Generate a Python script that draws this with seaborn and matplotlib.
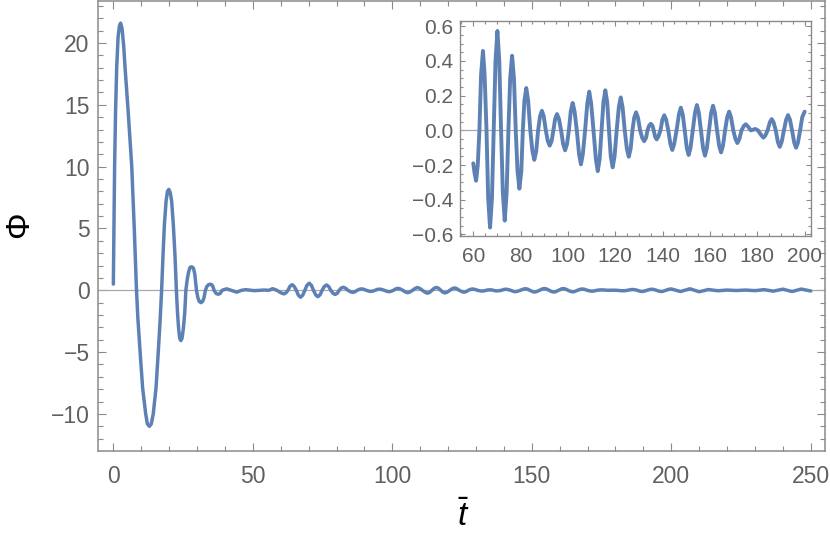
import pandas as pd
import matplotlib
matplotlib.use("Agg")
import matplotlib.pyplot as plt
from matplotlib.ticker import MultipleLocator
import seaborn as sns

# values (t_bar, Phi): early large swings
t_early = [0.0, 0.2, 0.45, 0.8, 1.2, 1.7, 2.2, 2.6, 3.1, 3.7, 4.2, 5.3, 6.6, 7.5,
           8.3, 8.8, 9.6, 10.5, 11.6, 12.2, 12.9, 13.6, 14.3, 15.3, 16.1, 16.8,
           17.3, 17.8, 18.3, 18.9, 19.4, 19.9, 20.4, 20.9, 21.5, 22.1,
           22.6, 23.0, 23.4, 23.8, 24.2, 24.6, 25.1, 25.6,
           26.0, 26.5, 27.0, 27.5, 28.1, 28.7, 29.2,
           29.8, 30.3, 30.8, 31.4, 32.0, 32.5,
           33.0, 33.5, 34.1, 34.7, 35.3, 35.7,
           36.1, 36.8, 37.6, 38.3, 39.0, 40.6, 42.2, 44.2, 46.0, 47.5, 50.5,
           54.0, 55.8, 57.1, 58.6]
phi_early = [0.5, 5.0, 10.0, 14.5, 18.0, 20.5, 21.4, 21.6, 21.2, 19.8, 18.0, 14.5, 10.0, 5.0,
             0.0, -2.3, -5.0, -7.9, -10.0, -10.8, -11.0, -10.8, -10.0, -7.9, -5.0, -2.3,
             0.0, 2.8, 5.3, 7.2, 8.0, 8.16, 7.9, 7.2, 5.3, 2.8,
             0.0, -1.8, -3.1, -3.9, -4.07, -3.9, -3.1, -1.8,
             0.0, 0.9, 1.5, 1.85, 1.9, 1.8, 1.3,
             0.0, -0.6, -0.9, -1.0, -0.9, -0.6,
             0.0, 0.3, 0.45, 0.49, 0.45, 0.3,
             0.0, -0.25, -0.32, -0.25, 0.0, 0.12, 0.0, -0.15, 0.0, 0.05, -0.03,
             0.02, 0.0, 0.13, 0.0]

# ringing between t = 60 and 200 (shown in the inset)
t_ring = [60.0, 60.6, 61.2, 61.9, 62.6, 63.3, 64.1, 64.8, 65.6, 66.3, 67.1, 67.9,
          68.65, 69.4, 70.2, 71.0, 71.75, 72.5, 73.3, 74.1, 74.85, 75.6, 76.4, 77.2,
          77.95, 78.7, 79.5, 80.3, 80.95, 81.6, 82.4, 83.2, 84.1, 85.0, 85.8, 86.6,
          87.4, 88.2, 89.0, 89.8, 90.65, 91.5, 92.3, 93.1, 93.85, 94.6, 95.4, 96.2,
          97.1, 98.0, 98.8, 99.6, 100.4, 101.2, 102.0, 102.8, 103.75, 104.7, 105.5, 106.3,
          107.25, 108.2, 109.0, 109.8, 110.8, 111.8, 112.6, 113.4, 114.2, 115.0, 115.8, 116.6,
          117.35, 118.1, 118.9, 119.7, 120.6, 121.5, 122.3, 123.1, 124.0, 124.9, 125.7, 126.5,
          127.25, 128.0, 128.8, 129.6, 130.5, 131.4, 132.2, 133.0, 133.6, 134.3, 135.0, 135.7,
          136.25, 136.8, 137.5, 138.2, 139.1, 139.9, 140.7, 141.5, 142.4, 143.3, 144.1, 144.9,
          145.9, 146.9, 147.7, 148.5, 149.35, 150.2, 151.0, 151.8, 152.75, 153.7, 154.5, 155.3,
          156.2, 157.1, 157.9, 158.7, 159.6, 160.5, 161.3, 162.1, 163.0, 163.9, 164.7, 165.5,
          166.4, 167.3, 168.1, 168.9, 169.85, 170.8, 171.6, 172.4, 173.35, 174.3, 175.1, 175.9,
          177.3, 179.2, 180.3, 181.8, 182.6, 183.4, 184.35, 185.3, 186.1, 186.9,
          187.8, 188.7, 189.5, 190.3, 191.25, 192.2, 193.0, 193.8, 194.7, 195.6, 196.4, 197.2,
          198.1, 199.0, 200.0]
phi_ring = [-0.19, -0.25, -0.29, -0.20, 0.0, 0.32, 0.458, 0.32, 0.0, -0.39, -0.56, -0.39,
            0.0, 0.40, 0.573, 0.40, 0.0, -0.36, -0.52, -0.36, 0.0, 0.30, 0.43, 0.30,
            0.0, -0.235, -0.336, -0.235, 0.0, 0.17, 0.244, 0.17, 0.0, -0.12, -0.17, -0.12,
            0.0, 0.08, 0.113, 0.08, 0.0, -0.062, -0.088, -0.062, 0.0, 0.066, 0.094, 0.066,
            0.0, -0.08, -0.115, -0.08, 0.0, 0.11, 0.158, 0.11, 0.0, -0.137, -0.196, -0.137,
            0.0, 0.156, 0.223, 0.156, 0.0, -0.165, -0.235, -0.165, 0.0, 0.162, 0.231, 0.162,
            0.0, -0.15, -0.213, -0.15, 0.0, 0.133, 0.19, 0.133, 0.0, -0.106, -0.152, -0.106,
            0.0, 0.073, 0.104, 0.073, 0.0, -0.043, -0.062, -0.043, 0.0, 0.027, 0.038, 0.027,
            0.0, -0.036, -0.052, -0.036, 0.0, 0.061, 0.087, 0.061, 0.0, -0.079, -0.113, -0.079,
            0.0, 0.092, 0.131, 0.092, 0.0, -0.10, -0.142, -0.10, 0.0, 0.102, 0.146, 0.102,
            0.0, -0.102, -0.146, -0.102, 0.0, 0.10, 0.142, 0.10, 0.0, -0.089, -0.127, -0.089,
            0.0, 0.076, 0.108, 0.076, 0.0, -0.051, -0.073, -0.051, 0.0, 0.025, 0.035, 0.025,
            0.0, 0.008, 0.0, -0.03, -0.042, -0.03, 0.0, 0.046, 0.065, 0.046,
            0.0, -0.067, -0.095, -0.067, 0.0, 0.062, 0.088, 0.062, 0.0, -0.07, -0.10, -0.07,
            0.0, 0.076, 0.108]

# tail after t = 200
t_tail = [203.3, 206.7, 210.0, 213.3, 216.7, 220.0, 223.3, 226.6, 230.0, 233.3,
          236.6, 240.0, 243.3, 246.6, 250.0]
phi_tail = [-0.10, 0.12, -0.12, 0.06, -0.04, 0.02, -0.02, 0.02, -0.03, 0.05,
            -0.07, 0.09, -0.10, 0.10, -0.06]

main_xticks = [0, 50, 100, 150, 200, 250]
main_yticks = [-10, -5, 0, 5, 10, 15, 20]
inset_xticks = [60, 80, 100, 120, 140, 160, 180, 200]
inset_yticks = [-0.6, -0.4, -0.2, 0.0, 0.2, 0.4, 0.6]

df = pd.DataFrame({"t": t_early + t_ring + t_tail,
                   "phi": phi_early + phi_ring + phi_tail})
df_in = df[(df["t"] >= 60) & (df["t"] <= 200)]

sns.set_style("ticks")
plt.rcParams["font.family"] = ["Liberation Sans", "DejaVu Sans"]
plt.rcParams["mathtext.fontset"] = "custom"
plt.rcParams["mathtext.it"] = "Liberation Sans:italic"
plt.rcParams["mathtext.rm"] = "Liberation Sans"

line_col = "#5E81B5"
frame_col = "#8a8a8a"
label_col = "#606060"

fig = plt.figure(figsize=(8.3, 5.4), dpi=100)
ax = fig.add_axes([98 / 830, 1 - 450.7 / 540, 727 / 830, 449.7 / 540])
ax.axhline(0, color="#a8a8a8", lw=0.9, zorder=1)
sns.lineplot(data=df, x="t", y="phi", ax=ax, color=line_col, lw=2.5,
             estimator=None, sort=False, zorder=3)
ax.set_xlim(-5.5, 255.1)
ax.set_ylim(-12.97, 23.39)
ax.set_xticks(main_xticks)
ax.set_yticks(main_yticks)
ax.xaxis.set_minor_locator(MultipleLocator(10))
ax.yaxis.set_minor_locator(MultipleLocator(1))
ax.set_xlabel("")
ax.set_ylabel("")
ax.tick_params(which="both", direction="in", top=True, right=True,
               color=frame_col, width=0.8, labelsize=16.5, labelcolor=label_col)
ax.tick_params(which="major", length=5.8)
ax.tick_params(which="minor", length=3.5)
ax.tick_params(axis="x", pad=10)
ax.tick_params(axis="y", pad=6)
for s in ax.spines.values():
    s.set_color(frame_col)
    s.set_linewidth(1.1)

fig.text(19.5 / 830, 1 - 225 / 540, "\u03a6", rotation=90, ha="center",
         va="center", fontsize=24, color="black")
fig.text(463 / 830, 1 - 517 / 540, r"$\bar{t}$", ha="center", va="center",
         fontsize=24, color="black")

# inset
axi = fig.add_axes([460 / 830, 1 - 235.7 / 540, 351 / 830, 215 / 540])
axi.set_facecolor("white")
axi.axhline(0, color="#a8a8a8", lw=0.9, zorder=1)
sns.lineplot(data=df_in, x="t", y="phi", ax=axi, color=line_col, lw=2.8,
             estimator=None, sort=False, zorder=3)
axi.set_xlim(54.4, 202.7)
axi.set_ylim(-0.607, 0.632)
axi.set_xticks(inset_xticks)
axi.set_yticks(inset_yticks)
axi.xaxis.set_minor_locator(MultipleLocator(5))
axi.yaxis.set_minor_locator(MultipleLocator(0.05))
axi.set_xlabel("")
axi.set_ylabel("")
axi.tick_params(which="both", direction="in", top=True, right=True,
                color=frame_col, width=0.8, labelsize=15, labelcolor=label_col)
axi.tick_params(which="major", length=3.6)
axi.tick_params(which="minor", length=2.2)
axi.tick_params(axis="x", pad=8)
axi.tick_params(axis="y", pad=5)
for s in axi.spines.values():
    s.set_color(frame_col)
    s.set_linewidth(1.0)

fig.savefig("out.png", dpi=100)
